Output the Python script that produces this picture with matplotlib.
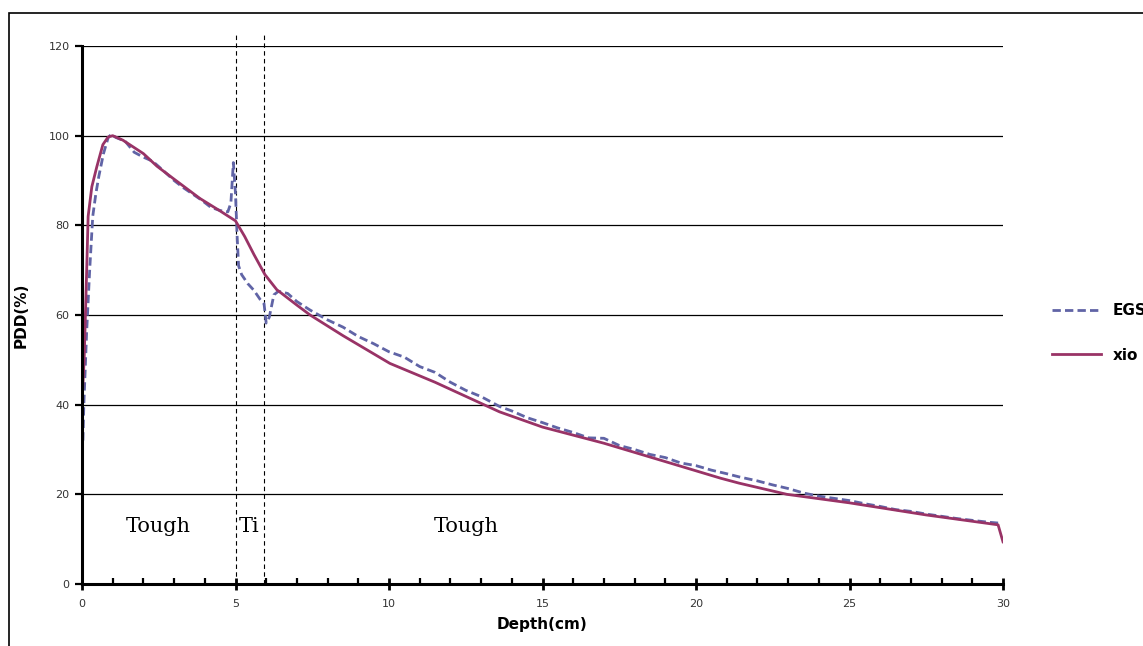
import matplotlib
matplotlib.use('Agg')
import matplotlib.pyplot as plt
from matplotlib.patches import Rectangle
from matplotlib.ticker import MultipleLocator

# xio calculation
xio_depth = [0, 0.07, 0.15, 0.2, 0.32, 0.48, 0.68, 0.85, 1.0, 1.33, 2.0, 2.44,
             3.0, 3.84, 4.5, 5.0, 5.3, 5.6, 5.96, 6.35, 6.45, 7.0, 7.43, 8.5,
             10.03, 11.5, 13.6, 15.0, 17.0, 19.0, 20.8, 21.4, 22.96, 25.0,
             27.5, 29.84, 30.0]
xio_pdd = [40.4, 50, 69.4, 82, 88.6, 93, 98, 99.7, 100, 99, 96, 93.2,
           90.3, 86, 83.2, 81, 77.5, 73.5, 69, 65.6, 65.1, 62.2, 60, 55.4,
           49.2, 45, 38.4, 35, 31.4, 27.3, 23.6, 22.5, 20, 18.1,
           15.4, 13.2, 9.4]

# EGS Monte Carlo
egs_depth = [0.03, 0.06, 0.1, 0.15, 0.2, 0.25, 0.3, 0.35, 0.45, 0.55, 0.7, 0.85,
             0.95, 1.1, 1.4, 1.7, 2.0, 2.3, 2.6, 3.0, 3.3, 3.6, 3.9, 4.2, 4.5,
             4.75, 4.85, 4.93, 5.0, 5.05, 5.1, 5.2, 5.4, 5.6, 5.8, 5.93, 6.0,
             6.1, 6.25, 6.4, 6.7, 7.0, 7.43, 8.0, 8.5, 9.0, 9.5, 10.0, 10.5,
             11.0, 11.5, 12.0, 12.5, 13.0, 13.6, 14.0, 14.5, 15.0, 15.5, 16.0,
             16.5, 17.0, 17.5, 18.0, 18.5, 19.0, 19.5, 20.0, 20.5, 21.0, 21.4,
             22.0, 22.5, 23.0, 23.5, 24.0, 24.5, 25.0, 25.5, 26.0, 26.5, 27.0,
             27.5, 28.0, 28.5, 29.0, 29.5, 29.84]
egs_pdd = [32, 40, 47, 56, 63, 70, 76, 82, 87, 91, 96, 99.5,
           100.3, 99.6, 98.8, 96.3, 95.2, 94.3, 92.5, 90.0, 88.4, 87.0, 85.6, 84.0, 83.3,
           83.0, 85, 94, 87, 78, 71, 69, 67, 65.5, 63.5, 62.5, 58.2,
           59.5, 64.5, 65.3, 64.8, 63.0, 61.1, 58.9, 57.3, 55.2, 53.6, 51.8, 50.6,
           48.5, 47.2, 45.0, 43.2, 41.8, 39.6, 38.6, 37.1, 36.0, 34.8, 33.8,
           32.6, 32.5, 30.9, 30.0, 28.9, 28.2, 27.0, 26.4, 25.4, 24.6, 23.9,
           23.0, 22.1, 21.3, 20.3, 19.6, 19.1, 18.6, 17.9, 17.3, 16.6, 16.2,
           15.6, 15.1, 14.6, 14.2, 13.8, 13.6]

# material boundaries and region labels
boundaries = [5.0, 5.93]
region_names = ['Tough', 'Ti', 'Tough']
region_x = [2.5, 5.44, 12.5]

fig = plt.figure(figsize=(11.43, 6.46), dpi=100)
fig.patches.append(Rectangle((9 / 1143, -0.1), 2, 1 - 13 / 646 + 0.1,
                             transform=fig.transFigure, fill=False,
                             edgecolor='black', linewidth=1.2))
ax = fig.add_axes([82 / 1143, 1 - 584 / 646, (1003 - 82) / 1143, (584 - 46) / 646])

ax.plot(egs_depth, egs_pdd, color='#6064a6', linewidth=2.0,
        linestyle=(0, (3, 1.5)), label='EGS', zorder=3)
ax.plot(xio_depth, xio_pdd, color='#993366', linewidth=2.0, label='xio', zorder=4)

for b in boundaries:
    ax.plot([b, b], [0, 122.5], color='black', linewidth=0.8,
            linestyle=(0, (4, 3)), clip_on=False, zorder=2)

for name, xr in zip(region_names, region_x):
    ax.text(xr, 12.9, name, family='DejaVu Serif', fontsize=15,
            ha='center', va='center')

ax.set_xlim(0, 30)
ax.set_ylim(0, 120)
ax.xaxis.set_major_locator(MultipleLocator(5))
ax.xaxis.set_minor_locator(MultipleLocator(1))
ax.yaxis.set_major_locator(MultipleLocator(20))
ax.yaxis.grid(True, color='black', linewidth=0.9)
ax.set_axisbelow(True)

for s in ['top', 'right']:
    ax.spines[s].set_visible(False)
for s in ['left', 'bottom']:
    ax.spines[s].set_linewidth(2.2)
ax.spines['left'].set_zorder(5)
ax.spines['bottom'].set_zorder(5)

ax.tick_params(axis='x', which='major', direction='inout', length=9, width=2,
               labelsize=8, labelcolor='#333333', pad=6)
ax.tick_params(axis='x', which='minor', direction='in', length=4, width=1.6)
ax.tick_params(axis='y', which='major', direction='out', length=5, width=1.6,
               labelsize=8, labelcolor='#333333', pad=4)

ax.set_xlabel('Depth(cm)', fontsize=11, fontweight='bold', labelpad=6)
ax.set_ylabel('PDD(%)', fontsize=11, fontweight='bold', labelpad=14)

ax.legend(loc='center left', bbox_to_anchor=(1038 / 1143, 1 - 333 / 646),
          bbox_transform=fig.transFigure, frameon=False, handlelength=3.2,
          labelspacing=1.9, handletextpad=0.8,
          prop={'weight': 'bold', 'size': 11})

fig.savefig('out.png', dpi=100)
